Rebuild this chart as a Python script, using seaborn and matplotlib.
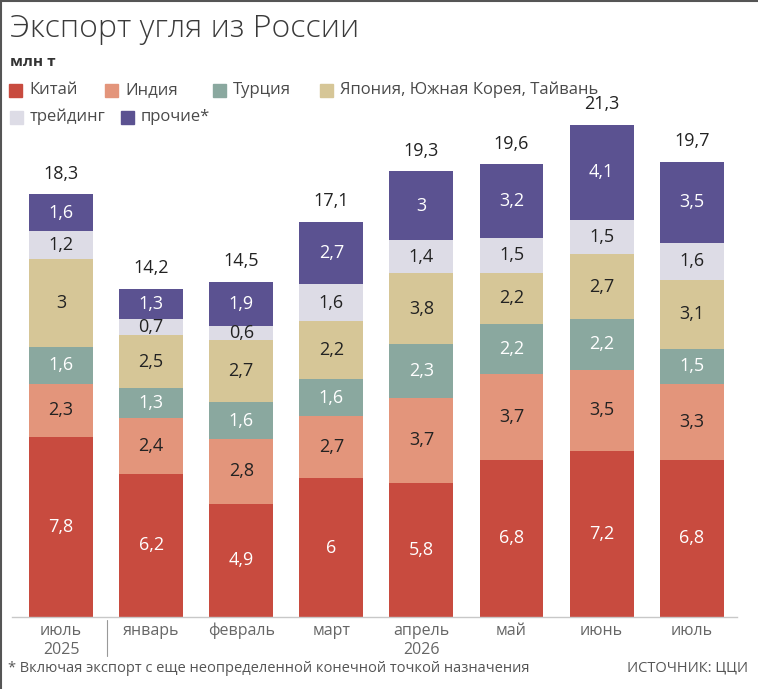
import matplotlib
matplotlib.use("Agg")
import matplotlib.pyplot as plt
import matplotlib.patches as mpatches
import numpy as np
import pandas as pd
import seaborn as sns

# values in mln t
months = ["июль\n2025", "январь", "февраль", "март", "апрель\n2026", "май", "июнь", "июль"]
totals = [18.3, 14.2, 14.5, 17.1, 19.3, 19.6, 21.3, 19.7]
china = [7.8, 6.2, 4.9, 6, 5.8, 6.8, 7.2, 6.8]
india = [2.3, 2.4, 2.8, 2.7, 3.7, 3.7, 3.5, 3.3]
turkey = [1.6, 1.3, 1.6, 1.6, 2.3, 2.2, 2.2, 1.5]
japan = [3, 2.5, 2.7, 2.2, 3.8, 2.2, 2.7, 3.1]          # printed labels
japan_bar = [3.8, 2.3, 2.7, 2.5, 3.1, 2.2, 2.8, 3.0]    # drawn segment heights
trading = [1.2, 0.7, 0.6, 1.6, 1.4, 1.5, 1.5, 1.6]
other = [1.6, 1.3, 1.9, 2.7, 3, 3.2, 4.1, 3.5]

series = ["Китай", "Индия", "Турция", "Япония, Южная Корея, Тайвань", "трейдинг", "прочие*"]
colors = ["#c84b3f", "#e3957b", "#8aa89f", "#d6c697", "#dddce6", "#5b5291"]
text_colors = ["white", "#222222", "white", "#222222", "#222222", "white"]

heights = [china, india, turkey, japan_bar, trading, other]
labels = [china, india, turkey, japan, trading, other]

sns.set_style("white")
plt.rcParams["font.family"] = ["Open Sans", "DejaVu Sans"]

fig = plt.figure(figsize=(7.58, 6.89), dpi=100)
ax = fig.add_axes([12 / 758, 72 / 689, 725 / 758, 517 / 689])

cum = np.cumsum(np.array(heights, dtype=float), axis=0)
# draw from the top layer down so lower layers cover the upper ones
for i in range(len(series) - 1, -1, -1):
    df = pd.DataFrame({"month": months, "value": cum[i]})
    sns.barplot(data=df, x="month", y="value", order=months, color=colors[i],
                width=0.71, saturation=1, linewidth=0, ax=ax)

bottoms = np.vstack([np.zeros(len(months)), cum[:-1]])
for i in range(len(series)):
    for j in range(len(months)):
        mid = bottoms[i, j] + heights[i][j] / 2
        ax.text(j, mid, f"{labels[i][j]:g}".replace(".", ","), ha="center", va="center",
                fontsize=13, color=text_colors[i])

for j, t in enumerate(totals):
    ax.text(j, cum[-1, j] + 0.5, f"{t:g}".replace(".", ","), ha="center", va="bottom",
            fontsize=13, color="#222222")

ax.set_xlim(-0.544, 7.503)
ax.set_ylim(0, 22.38)
ax.set_xlabel("")
ax.set_ylabel("")
ax.set_yticks([])
ax.tick_params(axis="x", length=0, pad=4, labelsize=11.5, labelcolor="#666666")
for lab in ax.get_xticklabels():
    lab.set_linespacing(1.25)
sns.despine(ax=ax, left=True)
ax.spines["bottom"].set_color("#c8c8c8")
ax.spines["bottom"].set_linewidth(1)

# separator between 2025 and 2026
ax.axvline(0.51, ymin=-0.075, ymax=-0.006, color="#999999", lw=0.8, clip_on=False)

# title and legend
fig.text(10 / 758, 1 - 29 / 689, "Экспорт угля из России", fontsize=23, fontweight="light",
         color="#3a3a3a", va="center")
fig.text(10 / 758, 1 - 62 / 689, "млн т", fontsize=11, fontweight="bold", color="#333333",
         va="center")

legend_pos = [(9, 90), (105, 90), (213, 90), (320, 90), (10, 117), (121, 117)]
for (px, py), name, col in zip(legend_pos, series, colors):
    fig.patches.append(mpatches.Rectangle((px / 758, 1 - (py + 6.5) / 689), 13 / 758, 13 / 689,
                                          transform=fig.transFigure, color=col))
    fig.text((px + 20) / 758, 1 - py / 689, name, fontsize=12, color="#4a4a4a", va="center")

fig.text(8 / 758, 1 - 668 / 689, "* Включая экспорт с еще неопределенной конечной точкой назначения",
         fontsize=10.5, color="#555555", va="center")
fig.text(748 / 758, 1 - 668 / 689, "ИСТОЧНИК: ЦЦИ", fontsize=10.5, color="#555555",
         va="center", ha="right")

# thin frame edge of the original screenshot
fig.add_artist(plt.Line2D([0, 1], [0.999, 0.999], transform=fig.transFigure, color="#555555", lw=1.5))
fig.add_artist(plt.Line2D([0.001, 0.001], [0, 1], transform=fig.transFigure, color="#555555", lw=1.5))

fig.savefig("out.png", dpi=100)
